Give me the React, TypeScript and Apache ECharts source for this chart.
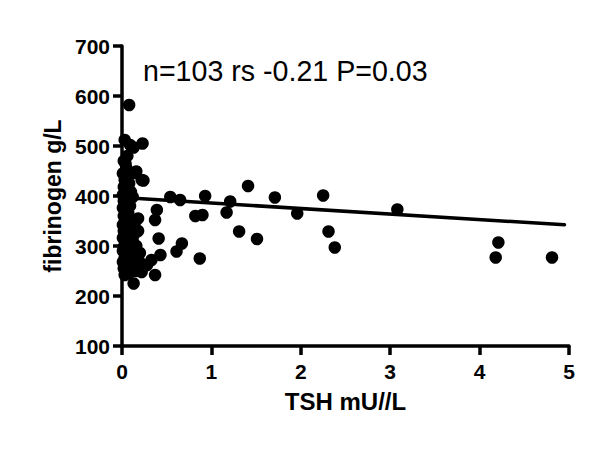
import React, { useEffect, useRef } from "react";
import * as echarts from "echarts";

const xTicks = [0, 1, 2, 3, 4, 5];
const yTicks = [100, 200, 300, 400, 500, 600, 700];

// TSH (mU/L) values
const tshValues = [
  0.08, 0.03, 0.13, 0.23, 0.04, 0.16, 0.24, 0.54, 0.65, 0.93,
  0.18, 0.39, 0.37, 0.82, 0.90, 0.13, 0.41, 0.20, 0.67, 0.61,
  0.87, 0.43, 0.33, 0.28, 0.22, 0.37, 0.13, 0.08,
  1.21, 1.17, 1.41, 1.31, 1.51, 1.71, 1.96, 2.25, 2.31, 2.38, 3.08, 4.21, 4.18, 4.81,
  0.02, 0.05, 0.01, 0.06, 0.03, 0.08, 0.02, 0.05, 0.10, 0.01,
  0.04, 0.07, 0.12, 0.02, 0.05, 0.09, 0.01, 0.04, 0.07, 0.02,
  0.06, 0.10, 0.03, 0.01, 0.05, 0.08, 0.02, 0.11, 0.04, 0.07,
  0.01, 0.03, 0.06, 0.09, 0.02, 0.05, 0.01, 0.04, 0.07, 0.03,
  0.06, 0.01, 0.04, 0.10, 0.02, 0.05, 0.08, 0.03, 0.15, 0.12,
  0.09, 0.15, 0.22, 0.16, 0.12, 0.18, 0.14, 0.06, 0.03, 0.11, 0.19,
];

// fibrinogen values
const fibValues = [
  582, 512, 497, 505, 464, 449, 431, 398, 392, 400,
  355, 372, 352, 360, 362, 322, 315, 286, 305, 289,
  275, 282, 272, 262, 248, 242, 225, 268,
  389, 367, 420, 329, 314, 397, 365, 401, 329, 297, 373, 307, 277, 277,
  470, 455, 445, 440, 432, 425, 418, 412, 408, 402,
  398, 394, 398, 390, 385, 380, 376, 371, 366, 360,
  356, 352, 348, 342, 338, 334, 330, 329, 325, 320,
  316, 311, 306, 302, 298, 294, 290, 285, 281, 276,
  272, 268, 262, 258, 255, 250, 246, 242, 250, 270,
  502, 446, 432, 300, 310, 330, 345, 480, 300, 285, 270,
];

const fitX = [0, 4.95];
const fitY = [397, 342.5];

const annotation = "n=103 rs -0.21 P=0.03";
const xName = "TSH mU//L";
const yName = "fibrinogen g/L";

const FONT = "Arial, 'Liberation Sans', Helvetica, sans-serif";

export default function App() {
  const ref = useRef<HTMLDivElement>(null);
  useEffect(() => {
    if (!ref.current) return;
    const chart = echarts.init(ref.current, null, { renderer: "svg" });
    const points = tshValues.map((x, i) => [x, fibValues[i]]);
    const line = fitX.map((x, i) => [x, fitY[i]]);
    chart.setOption({
      animation: false,
      backgroundColor: "#ffffff",
      grid: { left: 122, right: 31, top: 46, bottom: 107, containLabel: false },
      xAxis: {
        type: "value",
        min: xTicks[0],
        max: xTicks[xTicks.length - 1],
        interval: 1,
        name: xName,
        nameLocation: "middle",
        nameGap: 43,
        nameTextStyle: { fontFamily: FONT, fontWeight: "bold", fontSize: 24, color: "#000" },
        axisLine: { onZero: false, lineStyle: { color: "#000", width: 3.5 } },
        axisTick: { show: true, inside: false, length: 9, lineStyle: { color: "#000", width: 3.5 } },
        axisLabel: { fontFamily: FONT, fontWeight: "bold", fontSize: 21, color: "#000", margin: 15 },
        splitLine: { show: false },
      },
      yAxis: {
        type: "value",
        min: yTicks[0],
        max: yTicks[yTicks.length - 1],
        interval: 100,
        name: yName,
        nameLocation: "middle",
        nameGap: 57,
        nameTextStyle: { fontFamily: FONT, fontWeight: "bold", fontSize: 23, color: "#000" },
        axisLine: { onZero: false, lineStyle: { color: "#000", width: 3.5 } },
        axisTick: { show: true, inside: false, length: 9, lineStyle: { color: "#000", width: 3.5 } },
        axisLabel: { fontFamily: FONT, fontWeight: "bold", fontSize: 21, color: "#000", margin: 12 },
        splitLine: { show: false },
      },
      series: [
        {
          type: "scatter",
          data: points,
          symbol: "circle",
          symbolSize: 12.5,
          itemStyle: { color: "#000", opacity: 1 },
          z: 3,
        },
        {
          type: "line",
          data: line,
          symbol: "none",
          lineStyle: { color: "#000", width: 3.5, cap: "round" },
          z: 2,
        },
      ],
      graphic: [
        {
          type: "text",
          left: 143,
          top: 56,
          style: { text: annotation, fontFamily: FONT, fontSize: 28.6, fill: "#000" },
        },
      ],
    });
    return () => chart.dispose();
  }, []);
  return (
    <div
      ref={ref}
      style={{ position: "absolute", left: 0, top: 0, width: 600, height: 453 }}
    />
  );
}
